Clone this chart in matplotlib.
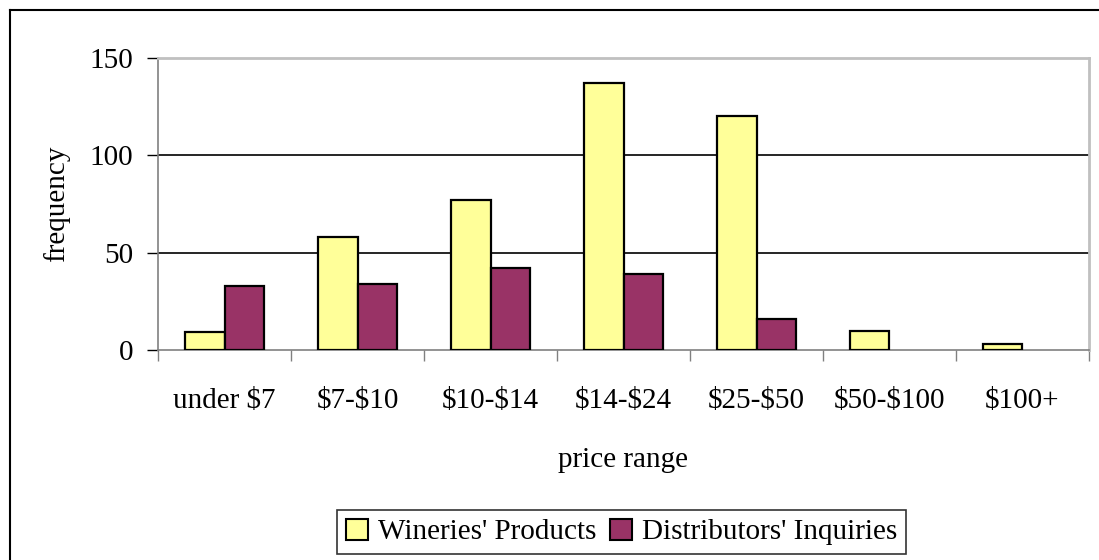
import matplotlib
matplotlib.use("Agg")
import matplotlib.pyplot as plt
from matplotlib.lines import Line2D
from matplotlib.patches import Patch
import numpy as np

categories = ["under $7", "$7-$10", "$10-$14", "$14-$24", "$25-$50", "$50-$100", "$100+"]
wineries = [9, 58, 77, 137, 120, 10, 3]
distributors = [33, 34, 42, 39, 16, 0, 0]
series_names = ["Wineries' Products", "Distributors' Inquiries"]
yticks = [0, 50, 100, 150]

plt.rcParams['font.family'] = ['Liberation Serif', 'DejaVu Serif']
plt.rcParams['text.parse_math'] = False
FS = 21

fig = plt.figure(figsize=(10.99, 5.6), dpi=100)
W, H = 1099, 560
ax = fig.add_axes([158 / W, 1 - 350 / H, (1089 - 158) / W, (350 - 58) / H])

x = np.arange(len(categories))
bw = 1 / 3.4
lw_w = [1.6 if v > 0 else 0 for v in wineries]
lw_d = [1.6 if v > 0 else 0 for v in distributors]
ax.bar(x - bw / 2, wineries, width=bw, color="#FFFF99", edgecolor="black", linewidth=lw_w, zorder=3)
ax.bar(x + bw / 2, distributors, width=bw, color="#993366", edgecolor="black", linewidth=lw_d, zorder=3)

ax.set_xlim(-0.5, len(categories) - 0.5)
ax.set_ylim(0, 150)
ax.set_yticks(yticks)
ax.set_yticklabels([str(v) for v in yticks], fontsize=FS)
ax.tick_params(axis='y', direction='out', length=8, width=1, color='black', pad=10)
for v in yticks[1:]:
    ax.axhline(v, color='black', linewidth=1.2, zorder=1)

ax.set_xticks(x)
ax.set_xticklabels(categories, fontsize=FS)
ax.tick_params(axis='x', which='major', length=0, pad=27)
ax.set_xticks(np.arange(-0.5, len(categories)), minor=True)
ax.tick_params(axis='x', which='minor', direction='out', length=8, width=1, color='#808080')

ax.spines['left'].set_color('#808080')
ax.spines['bottom'].set_color('#808080')
ax.spines['top'].set_color('#C0C0C0')
ax.spines['right'].set_color('#C0C0C0')
ax.spines['top'].set_linewidth(2)
ax.spines['right'].set_linewidth(2)
ax.spines['left'].set_linewidth(1.2)
ax.spines['bottom'].set_linewidth(1.2)

ax.set_xlabel("price range", fontsize=FS, labelpad=24)
ax.set_ylabel("frequency", fontsize=FS, labelpad=14)

handles = [Patch(facecolor="#FFFF99", edgecolor="black", linewidth=1.5),
           Patch(facecolor="#993366", edgecolor="black", linewidth=1.5)]
leg = fig.legend(handles, series_names, loc='center', bbox_to_anchor=((340 + 903) / 2 / W, 1 - 532 / H),
                 ncol=2, fontsize=FS, frameon=True, fancybox=False, edgecolor='black',
                 handlelength=0.75, handleheight=0.75, handletextpad=0.35, columnspacing=0.45,
                 borderpad=0.3, borderaxespad=0)
leg.get_frame().set_linewidth(1.2)

fig.add_artist(Line2D([10 / W, 1.0], [1 - 10 / H, 1 - 10 / H], color='black', linewidth=1.5, transform=fig.transFigure))
fig.add_artist(Line2D([10 / W, 10 / W], [0, 1 - 10 / H], color='black', linewidth=1.5, transform=fig.transFigure))

fig.savefig("out.png", dpi=100)
